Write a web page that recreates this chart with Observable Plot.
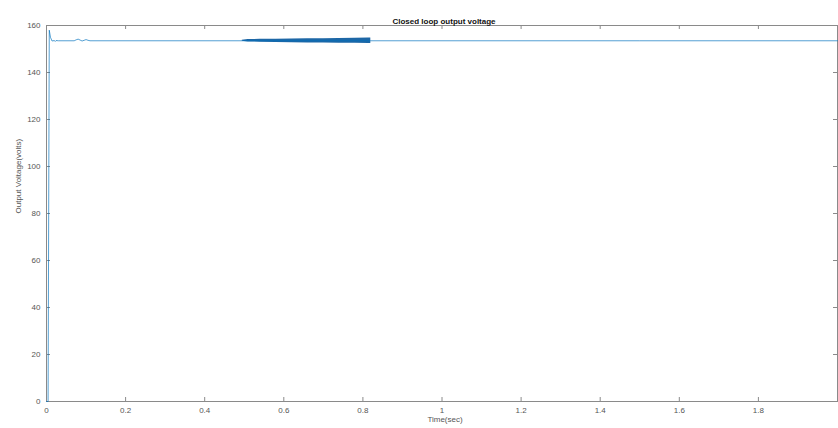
<!DOCTYPE html>
<html>
<head>
<meta charset="utf-8">
<script src="https://cdn.jsdelivr.net/npm/d3@7"></script>
<script src="https://cdn.jsdelivr.net/npm/@observablehq/plot@0.6"></script>
<style>
  html, body { margin: 0; padding: 0; background: #fff; }
  svg { display: block; }
</style>
</head>
<body>
<div id="chart"></div>
<script>
// ---- data ----
const chartTitle = "Closed loop output voltage";
const xLabel = "Time(sec)";
const yLabel = "Output Voltage(volts)";

const xTicks = [0, 0.2, 0.4, 0.6, 0.8, 1, 1.2, 1.4, 1.6, 1.8];
const xTickLabels = ["0", "0.2", "0.4", "0.6", "0.8", "1", "1.2", "1.4", "1.6", "1.8"];
const yTicks = [0, 20, 40, 60, 80, 100, 120, 140, 160];

// output voltage trace (thin line)
const traceTime    = [0, 0.004, 0.007, 0.010, 0.014, 0.020, 0.022, 0.024, 0.030, 0.070, 0.075, 0.080, 0.085, 0.090, 0.095, 0.100, 0.105, 0.110, 0.500, 0.820, 1.000, 1.500, 2.000];
const traceVoltage = [0,     0,   158,   155,   153.4, 153.6, 153.2, 153.6, 153.5, 153.5, 153.9, 154.2, 153.8, 153.4, 153.7, 154.0, 153.7, 153.5, 153.5, 153.5, 153.5, 153.5, 153.5];

// high-frequency oscillation envelope (0.5 s – 0.82 s)
const bandTime = [0.495, 0.51, 0.54, 0.58, 0.62, 0.66, 0.70, 0.74, 0.78, 0.815, 0.82];
const bandLow  = [153.3, 153.0, 152.9, 152.8, 152.7, 152.6, 152.6, 152.5, 152.4, 152.3, 152.3];
const bandHigh = [153.7, 154.0, 154.1, 154.2, 154.3, 154.4, 154.4, 154.5, 154.6, 154.7, 154.7];

// ---- build tables ----
const trace = traceTime.map((t, i) => ({t, v: traceVoltage[i]}));
const band = bandTime.map((t, i) => ({t, lo: bandLow[i], hi: bandHigh[i]}));

const W = 838, H = 428;
const mt = 25, mb = 27, ml = 46, mr = 1;
const plotW = W - ml - mr, plotH = H - mt - mb;
const tickLen = 4;
const axisColor = "#8a8a8a";
const labelColor = "#555555";
const lineBlue = "#0072BD";

const chart = Plot.plot({
  width: W,
  height: H,
  marginTop: mt,
  marginBottom: mb,
  marginLeft: ml,
  marginRight: mr,
  style: {fontFamily: "Liberation Sans, Arial, sans-serif", background: "#fff"},
  x: {domain: [0, 2]},
  y: {domain: [0, 160]},
  marks: [
    Plot.frame({stroke: axisColor, strokeWidth: 1}),
    // inward tick marks (MATLAB style) on all four sides
    Plot.tickX(xTicks, {x: d => d, insetTop: plotH - tickLen, stroke: axisColor}),
    Plot.tickX(xTicks, {x: d => d, insetBottom: plotH - tickLen, stroke: axisColor}),
    Plot.tickY(yTicks, {y: d => d, insetRight: plotW - tickLen, stroke: axisColor}),
    Plot.tickY(yTicks, {y: d => d, insetLeft: plotW - tickLen, stroke: axisColor}),
    // tick labels
    Plot.axisX({ticks: xTicks, tickSize: 0, tickPadding: 6, tickFormat: (d) => xTickLabels[xTicks.indexOf(d)], fontSize: 8, color: labelColor, label: null}),
    Plot.axisY({ticks: yTicks, tickSize: 0, tickPadding: 6, fontSize: 8, color: labelColor, label: null}),
    // axis titles
    Plot.text([xLabel], {frameAnchor: "bottom", dy: 20, dx: 3, text: d => d, fontSize: 8, fill: labelColor}),
    Plot.text([yLabel], {frameAnchor: "left", dx: -28, rotate: -90, text: d => d, fontSize: 8, fill: labelColor}),
    Plot.text([chartTitle], {frameAnchor: "top", dy: -7, dx: 2, text: d => d, fontSize: 8, fontWeight: "bold", fill: "#111"}),
    // data
    Plot.areaY(band, {x: "t", y1: "lo", y2: "hi", fill: "#1d67a6", curve: "linear"}),
    Plot.line(trace, {x: "t", y: "v", stroke: lineBlue, strokeWidth: 0.9, strokeOpacity: 0.75}),
  ]
});

document.getElementById("chart").appendChild(chart);
</script>
</body>
</html>
